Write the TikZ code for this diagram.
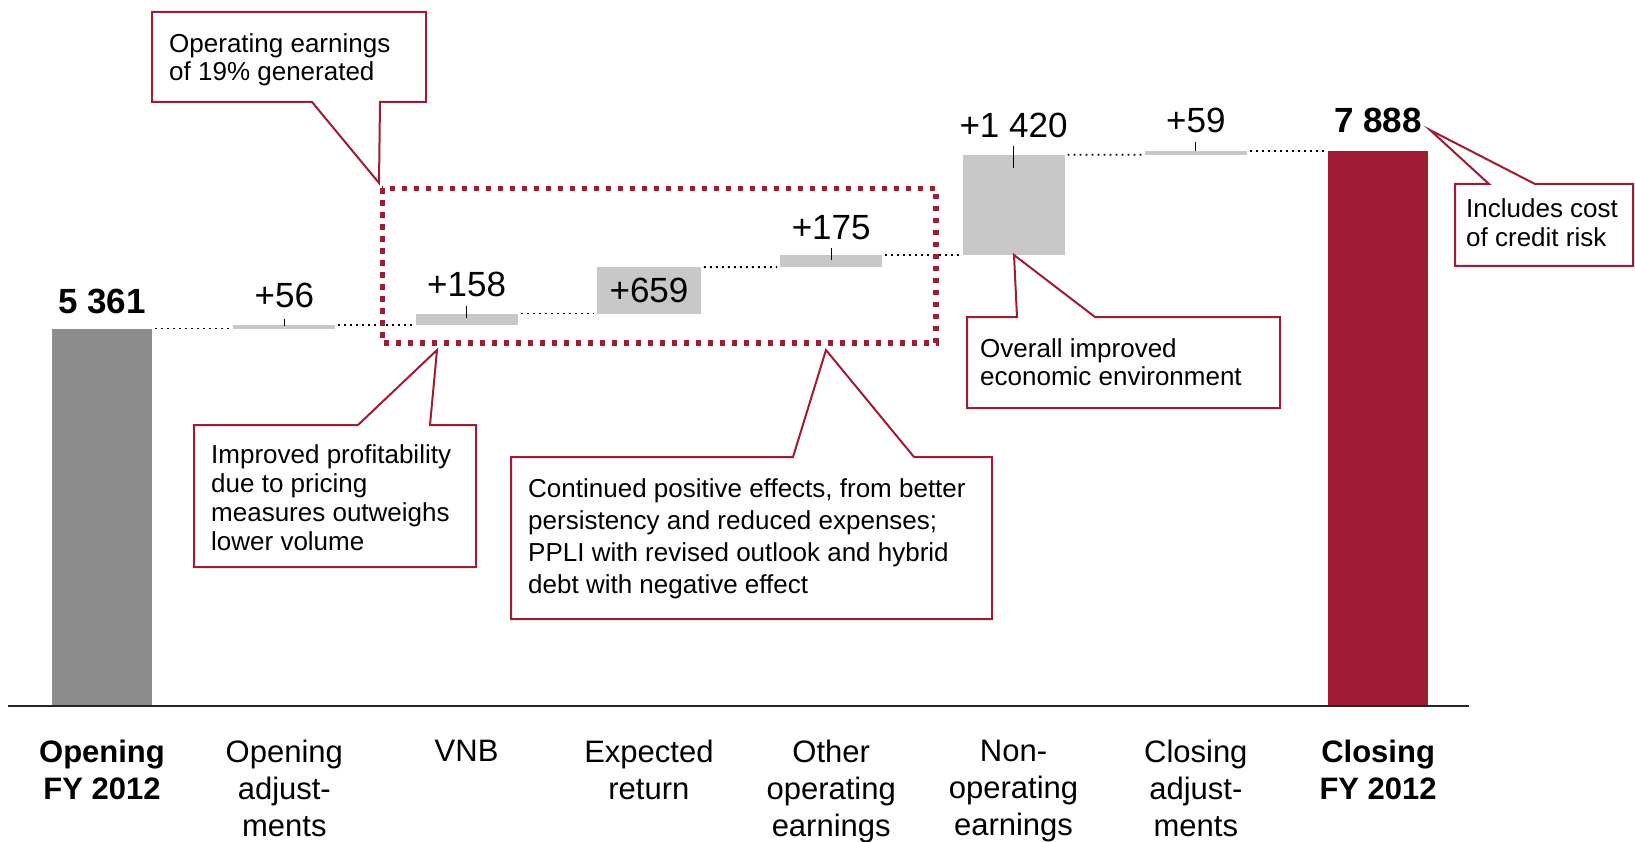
\documentclass[tikz,border=0pt]{standalone}
\usepackage{fontspec}
\setmainfont{Liberation Sans}
\definecolor{brandred}{RGB}{160,27,52}
\definecolor{bargray}{RGB}{200,200,200}
\definecolor{basegray}{RGB}{140,140,140}
\begin{document}
\begin{tikzpicture}[x=1pt,y=-1pt,
  incbar/.style={fill=bargray, draw=none, inner sep=0pt, outer sep=0pt, minimum width=102pt},
  endbar/.style={draw=none, inner sep=0pt, outer sep=0pt, minimum width=100pt},
  numlbl/.style={font=\fontsize{35}{42}\selectfont, anchor=base, inner sep=0pt},
  numbold/.style={numlbl, font=\fontsize{35}{42}\selectfont\bfseries},
  catlbl/.style={font=\fontsize{31}{37}\selectfont, align=center, anchor=north, inner sep=0pt},
  catbold/.style={catlbl, font=\fontsize{31}{37}\selectfont\bfseries},
  notetxt/.style={align=left, anchor=north west, inner sep=0pt},
  callout/.style={draw=brandred, line width=2pt, fill=white, line join=miter},
  connector/.style={line width=1.9pt, dash pattern=on 1.9pt off 4.1pt, shorten <=3pt, shorten >=3pt},
  tickmark/.style={line width=1.2pt},
  groupbox/.style={draw=brandred, line width=5.3pt, dash pattern=on 5.3pt off 6.7pt}
]
\useasboundingbox (0,0) rectangle (1635,842);

% bars
\node[endbar, fill=basegray, minimum height=377.5pt] (b0) at (102,517.25) {};
\node[incbar, minimum height=3.9pt]  (b1) at (284.3,326.55) {};
\node[incbar, minimum height=11.1pt] (b2) at (466.6,319.05) {};
\node[incbar, minimum height=46.4pt, minimum width=104pt] (b3) at (648.9,290.3) {};
\node[incbar, minimum height=12.3pt] (b4) at (831.2,260.95) {};
\node[incbar, minimum height=100pt]  (b5) at (1013.5,204.8) {};
\node[incbar, minimum height=4.2pt]  (b6) at (1195.8,152.7) {};
\node[endbar, fill=brandred, minimum height=555.4pt] (b7) at (1378.1,428.3) {};

% dotted connectors
\draw[connector] (b0.north east) -- (b1.south west);
\draw[connector] (b1.north east) -- (b2.south west);
\draw[connector] (b2.north east) -- (b3.south west);
\draw[connector] (b3.north east) -- (b4.south west);
\draw[connector] (b4.north east) -- (b5.south west);
\draw[connector] (b5.north east) -- (b6.south west);
\draw[connector] (b6.north east) -- (b7.north west);

% ticks
\draw[tickmark] ([yshift=6pt]b1.north) -- ([yshift=-1.5pt]b1.north);
\draw[tickmark] ([yshift=7.5pt]b2.north) -- ([yshift=-4.5pt]b2.north);
\draw[tickmark] ([yshift=7pt]b4.north) -- ([yshift=-5pt]b4.north);
\draw[tickmark] ([yshift=9pt]b5.north) -- ([yshift=-13pt]b5.north);
\draw[tickmark] ([yshift=8.5pt]b6.north) -- ([yshift=-0.5pt]b6.north);

% value labels
\node[numbold] (v0) at (102,313) {5 361};
\node[numlbl] (v1) at (284.3,308) {+56};
\node[numlbl] (v2) at (466.6,297) {+158};
\node[numlbl] (v3) at (649,302) {+659};
\node[numlbl] (v4) at (831.2,240) {+175};
\node[numlbl] (v5) at (1013.5,138) {+1 420};
\node[numlbl] (v6) at (1195.8,133) {+59};
\node[numbold] (v7) at (1378.1,133) {7 888};

% axis
\coordinate (axL) at (8,706);
\coordinate (axR) at (1469,706);
\draw[line width=2.2pt, black!85] (axL) -- (axR);

% category labels
\node[catbold] (c0) at (102,740) {Opening\\FY 2012};
\node[catlbl] (c1) at (284.3,740) {Opening\\adjust-\\ments};
\node[catlbl] (c2) at (466.6,740) {VNB};
\node[catlbl] (c3) at (648.9,740) {Expected\\return};
\node[catlbl] (c4) at (831.2,740) {Other\\operating\\earnings};
\node[catlbl] (c5) at (1013.5,740) {Non-\\operating\\earnings};
\node[catlbl] (c6) at (1195.8,740) {Closing\\adjust-\\ments};
\node[catbold] (c7) at (1378.1,740) {Closing\\FY 2012};

% operating group box
\draw[groupbox] (382.3,188.3) rectangle (936,343);

% callouts
\draw[callout] (152,12) -- (426,12) -- (426,102) -- (380,102) -- (379,183) -- (312,102) -- (152,102) -- cycle;
\node[notetxt, font=\fontsize{26}{28}\selectfont] (n1) at (169,33.3) {Operating earnings\\of 19\% generated};

\draw[callout] (194,425) -- (358,425) -- (437,350) -- (430,425) -- (476,425) -- (476,567) -- (194,567) -- cycle;
\node[notetxt, font=\fontsize{26}{29}\selectfont] (n2) at (211,444.3) {Improved profitability\\due to pricing\\measures outweighs\\lower volume};

\draw[callout] (511,457) -- (793,457) -- (826,350) -- (914,457) -- (992,457) -- (992,619) -- (511,619) -- cycle;
\node[notetxt, font=\fontsize{26}{32}\selectfont] (n3) at (528,478.3) {Continued positive effects, from better\\persistency and reduced expenses;\\PPLI with revised outlook and hybrid\\debt with negative effect};

\draw[callout] (967,317) -- (1017,317) -- (1014,255) -- (1095,317) -- (1280,317) -- (1280,408) -- (967,408) -- cycle;
\node[notetxt, font=\fontsize{26}{28}\selectfont] (n4) at (980,338.3) {Overall improved\\economic environment};

\draw[callout] (1455,184) -- (1489,184) -- (1430,130) -- (1535,184) -- (1633,184) -- (1633,266) -- (1455,266) -- cycle;
\node[notetxt, font=\fontsize{26}{29}\selectfont] (n5) at (1466,198.3) {Includes cost\\of credit risk};
\end{tikzpicture}
\end{document}
